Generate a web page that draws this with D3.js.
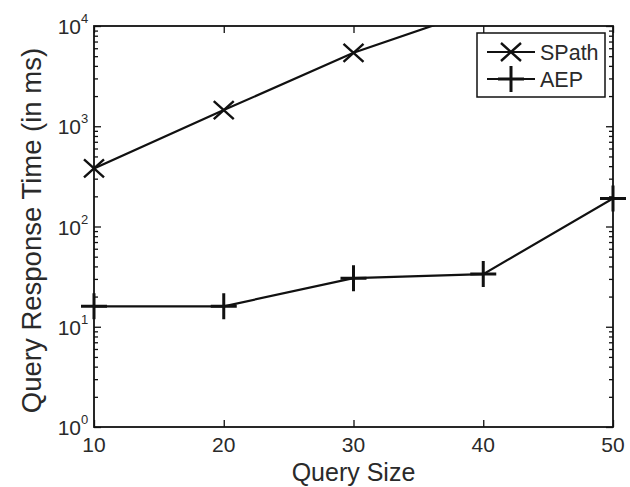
<!DOCTYPE html>
<html><head><meta charset="utf-8">
<script src="https://cdn.jsdelivr.net/npm/d3@7"></script>
<style>
body{margin:0;background:#fff;}
text{font-family:"Liberation Sans",Arial,sans-serif;fill:#2a2a2a;}
</style></head>
<body><svg id="c" width="630" height="487"></svg>
<script>
const querySizes = [10, 20, 30, 40, 50];
const spathTimes = [380, 1450, 5400, 15000, null];
const aepTimes = [16, 16, 30.5, 33.5, 190];
const seriesNames = ["SPath", "AEP"];
const xTickValues = [10, 20, 30, 40, 50];
const yDecadeExponents = [0, 1, 2, 3, 4];

const svg = d3.select("#c");
const L = 94, R = 613, T = 26, B = 427;
const x = d3.scaleLinear().domain([10, 50]).range([L, R]);
const y = d3.scaleLog().domain([1, 1e4]).range([B, T]);

const majors = yDecadeExponents.map(e => Math.pow(10, e));
const minors = [];
yDecadeExponents.slice(0, -1).forEach(e => { for (let k = 2; k <= 9; k++) minors.push(k * Math.pow(10, e)); });

const axisColor = "#111";
function styleAxis(g){ g.select(".domain").remove(); g.selectAll("line").attr("stroke", axisColor).attr("stroke-width", 1.3); g.selectAll("text").remove(); }

svg.append("g").attr("transform", `translate(${L},0)`).call(d3.axisLeft(y).tickValues(minors).tickSize(-4)).call(styleAxis);
svg.append("g").attr("transform", `translate(${L},0)`).call(d3.axisLeft(y).tickValues(majors).tickSize(-7)).call(styleAxis);
svg.append("g").attr("transform", `translate(${R},0)`).call(d3.axisRight(y).tickValues(minors).tickSize(-4)).call(styleAxis);
svg.append("g").attr("transform", `translate(${R},0)`).call(d3.axisRight(y).tickValues(majors).tickSize(-7)).call(styleAxis);
svg.append("g").attr("transform", `translate(0,${B})`).call(d3.axisBottom(x).tickValues(xTickValues).tickSize(-7)).call(styleAxis);
svg.append("g").attr("transform", `translate(0,${T})`).call(d3.axisTop(x).tickValues(xTickValues).tickSize(-7)).call(styleAxis);

svg.append("rect").attr("x", L).attr("y", T).attr("width", R - L).attr("height", B - T)
  .attr("fill", "none").attr("stroke", axisColor).attr("stroke-width", 1.8);

yDecadeExponents.forEach(e => {
  svg.append("text").attr("x", 81).attr("y", y(Math.pow(10, e)) + 8)
    .attr("text-anchor", "end").attr("font-size", 21).text("10");
  svg.append("text").attr("x", 81).attr("y", y(Math.pow(10, e)) - 3)
    .attr("font-size", 13).text(e);
});
xTickValues.forEach(v => {
  svg.append("text").attr("x", x(v)).attr("y", 452).attr("text-anchor", "middle")
    .attr("font-size", 21).text(v);
});

svg.append("text").attr("x", (L + R) / 2).attr("y", 481).attr("text-anchor", "middle")
  .attr("font-size", 25).text("Query Size");
svg.append("text").attr("transform", `translate(41,${(T + B) / 2 + 4}) rotate(-90)`)
  .attr("text-anchor", "middle").attr("font-size", 27.5).text("Query Response Time (in ms)");

svg.append("clipPath").attr("id", "clip").append("rect").attr("x", L).attr("y", T).attr("width", R - L).attr("height", B - T);

const line = d3.line().defined(d => d[1] != null).x(d => x(d[0])).y(d => y(d[1]));
const spathPts = querySizes.map((q, i) => [q, spathTimes[i]]);
const aepPts = querySizes.map((q, i) => [q, aepTimes[i]]);

const plot = svg.append("g").attr("clip-path", "url(#clip)");
plot.append("path").datum(spathPts).attr("d", line).attr("fill", "none").attr("stroke", "#111").attr("stroke-width", 2.2);
plot.append("path").datum(aepPts).attr("d", line).attr("fill", "none").attr("stroke", "#111").attr("stroke-width", 2.2);

function xMarker(g, cx, cy){
  g.append("path").attr("d", `M${cx-10},${cy-9}L${cx+10},${cy+9}M${cx-10},${cy+9}L${cx+10},${cy-9}`)
    .attr("stroke", "#111").attr("stroke-width", 2.4).attr("fill", "none");
}
function plusMarker(g, cx, cy){
  g.append("path").attr("d", `M${cx-13},${cy}L${cx+13},${cy}M${cx},${cy-13}L${cx},${cy+13}`)
    .attr("stroke", "#111").attr("stroke-width", 3).attr("fill", "none");
}
const mk = svg.append("g");
spathPts.filter(d => d[1] != null && d[1] <= 1e4).forEach(d => xMarker(mk, x(d[0]), y(d[1])));
aepPts.forEach(d => plusMarker(mk, x(d[0]), y(d[1])));

const lg = svg.append("g");
lg.append("rect").attr("x", 477).attr("y", 33).attr("width", 128).attr("height", 64)
  .attr("fill", "#fff").attr("stroke", axisColor).attr("stroke-width", 1.5);
const ly = [52, 79];
seriesNames.forEach((name, i) => {
  lg.append("line").attr("x1", 487).attr("x2", 535).attr("y1", ly[i]).attr("y2", ly[i])
    .attr("stroke", "#111").attr("stroke-width", 2.2);
  if (i === 0) xMarker(lg, 511, ly[i]); else plusMarker(lg, 511, ly[i]);
  lg.append("text").attr("x", 540).attr("y", ly[i] + 8).attr("font-size", 21.5).text(name);
});
</script></body></html>
